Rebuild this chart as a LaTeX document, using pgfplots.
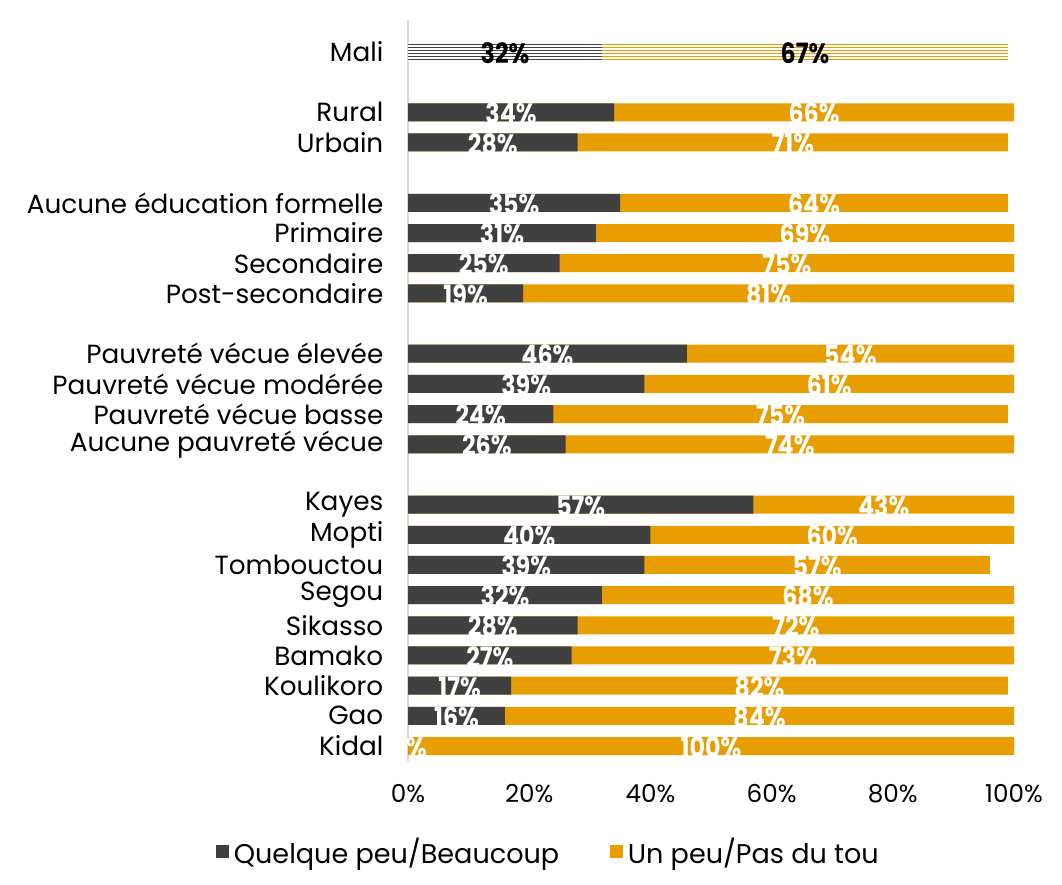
\documentclass[border=0pt]{standalone}
\usepackage{fontspec}
\setmainfont{Poppins}
\usepackage{graphicx}
\usepackage{pgfplots}
\usepackage{pgfplotstable}
\pgfplotsset{compat=1.18}
\definecolor{dk}{HTML}{404040}
\definecolor{og}{HTML}{E89E00}

% y: row position; d: Quelque peu/Beaucoup; o: Un peu/Pas du tou; t = d + o
\pgfplotstableread{
y d o t
-2 34 66 100
-3 28 71 99
-5 35 64 99
-6 31 69 100
-7 25 75 100
-8 19 81 100
-10 46 54 100
-11 39 61 100
-12 24 75 99
-13 26 74 100
-15 57 43 100
-16 40 60 100
-17 39 57 96
-18 32 68 100
-19 28 72 100
-20 27 73 100
-21 17 82 99
-22 16 84 100
-23 0 100 100
}\bars

% label positions: middle of each segment
\pgfplotstableread{
x y lab
17 -2 34\%
67 -2 66\%
14 -3 28\%
63.5 -3 71\%
17.5 -5 35\%
67 -5 64\%
15.5 -6 31\%
65.5 -6 69\%
12.5 -7 25\%
62.5 -7 75\%
9.5 -8 19\%
59.5 -8 81\%
23 -10 46\%
73 -10 54\%
19.5 -11 39\%
69.5 -11 61\%
12 -12 24\%
61.5 -12 75\%
13 -13 26\%
63 -13 74\%
28.5 -15 57\%
78.5 -15 43\%
20 -16 40\%
70 -16 60\%
19.5 -17 39\%
67.5 -17 57\%
16 -18 32\%
66 -18 68\%
14 -19 28\%
64 -19 72\%
13.5 -20 27\%
63.5 -20 73\%
8.5 -21 17\%
58 -21 82\%
8 -22 16\%
58 -22 84\%
1.4 -23 \%
50 -23 100\%
}\labs

\pgfplotstableread{
x y lab
16 0 32\%
65.5 0 67\%
}\malilabs

\pgfplotsset{
  stripe/.style 2 args={forget plot, fill=#1, draw=none, bar width=1.15pt, bar shift=#2},
  lbl/.style={forget plot, only marks, mark=none, point meta=explicit symbolic,
    nodes near coords={{\bfseries\fontsize{21}{24}\selectfont\scalebox{0.85}[1]{\pgfplotspointmeta}}},
    nodes near coords style={#1, anchor=center, yshift=-1pt, inner sep=0pt}},
}

\begin{document}
\begin{tikzpicture}
\path[use as bounding box] (0,0) rectangle (796.5pt,663pt);
\begin{axis}[
  at={(306pt,91.5pt)}, anchor=south west,
  scale only axis, width=454.5pt, height=556.5pt,
  xbar, bar width=13.5pt, bar shift=0pt,
  xmin=0, xmax=100, ymin=-23.53, ymax=1.06,
  axis x line=bottom, axis y line=left,
  x axis line style={draw=none},
  y axis line style={draw=black!15, line width=1.2pt, -},
  major tick length=0,
  xtick={0,20,40,60,80,100},
  xticklabel={\pgfmathprintnumber{\tick}\%},
  xticklabel style={font=\fontsize{18.5}{22}\selectfont, yshift=-13pt},
  ytick={-23,-22,-21,-20,-19,-18,-17,-16,-15,-13,-12,-11,-10,-8,-7,-6,-5,-3,-2,0},
  yticklabels={Kidal,Gao,Koulikoro,Bamako,Sikasso,Segou,Tombouctou,Mopti,Kayes,Aucune pauvreté vécue,Pauvreté vécue basse,Pauvreté vécue modérée,Pauvreté vécue élevée,Post-secondaire,Secondaire,Primaire,Aucune éducation formelle,Urbain,Rural,Mali},
  yticklabel style={font=\fontsize{19.7}{22}\selectfont, xshift=-15pt},
  /pgf/number format/assume math mode=true,
  legend style={draw=none, at={(0.232,-0.121)}, anchor=center,
    legend columns=2, font=\fontsize{20.3}{24}\selectfont,
    /tikz/every odd column/.append style={column sep=2pt},
    /tikz/every even column/.append style={column sep=36pt}},
  legend image code/.code={\fill[#1] (0pt,-4.5pt) rectangle (9.5pt,5pt);},
  clip=false,
]
\addlegendimage{fill=dk, draw=none}
\addlegendentry{Quelque peu/Beaucoup}
\addlegendimage{fill=og, draw=none}
\addlegendentry{Un peu/Pas du tou}

% orange spans the whole bar (d + o), dark drawn over it from 0 to d
\addplot[forget plot, fill=og, draw=none] table[x=t, y=y] {\bars};
\addplot[forget plot, fill=dk, draw=none] table[x=d, y=y] {\bars};

% Mali, striped bar: total 99 (orange), dark part 32
\addplot[stripe={og}{-5.625pt}] coordinates {(99,0)};
\addplot[stripe={og}{-3.375pt}] coordinates {(99,0)};
\addplot[stripe={og}{-1.125pt}] coordinates {(99,0)};
\addplot[stripe={og}{1.125pt}] coordinates {(99,0)};
\addplot[stripe={og}{3.375pt}] coordinates {(99,0)};
\addplot[stripe={og}{5.625pt}] coordinates {(99,0)};
\addplot[forget plot, fill=white, draw=none, bar width=13.6pt] coordinates {(32,0)};
\addplot[stripe={dk}{-5.625pt}] coordinates {(32,0)};
\addplot[stripe={dk}{-3.375pt}] coordinates {(32,0)};
\addplot[stripe={dk}{-1.125pt}] coordinates {(32,0)};
\addplot[stripe={dk}{1.125pt}] coordinates {(32,0)};
\addplot[stripe={dk}{3.375pt}] coordinates {(32,0)};
\addplot[stripe={dk}{5.625pt}] coordinates {(32,0)};

\addplot[lbl=white] table[x=x, y=y, meta=lab] {\labs};
\addplot[lbl=black] table[x=x, y=y, meta=lab] {\malilabs};
\end{axis}
\end{tikzpicture}
\end{document}
